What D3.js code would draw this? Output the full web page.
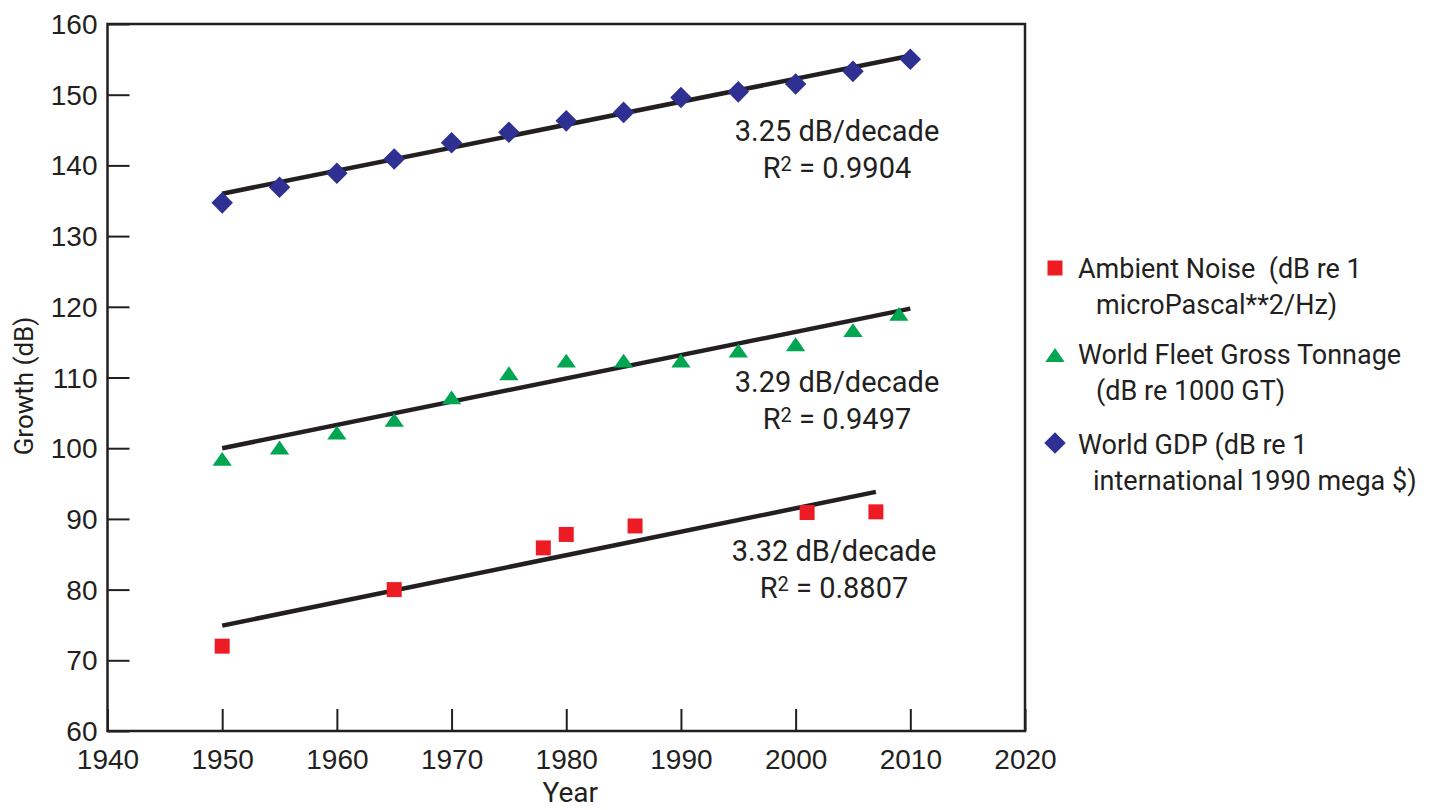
<!DOCTYPE html>
<html>
<head>
<meta charset="utf-8">
<script src="https://cdn.jsdelivr.net/npm/d3@7"></script>
<style>
  html, body { margin: 0; padding: 0; background: #ffffff; }
  svg { display: block; font-family: Roboto, "Noto Sans", sans-serif; }
  text { fill: #231f20; white-space: pre; }
</style>
</head>
<body>
<svg id="chart" width="1440" height="810"></svg>
<script>
// ---- Data -------------------------------------------------------------
const noiseYears  = [1950, 1965, 1978, 1980, 1986, 2001, 2007];
const noiseValues = [72.0, 80.0, 85.9, 87.8, 89.0, 90.9, 91.0];

const fleetYears  = [1950, 1955, 1960, 1965, 1970, 1975, 1980, 1985, 1990, 1995, 2000, 2005, 2009];
const fleetValues = [98.5, 100.1, 102.2, 104.0, 107.2, 110.6, 112.4, 112.4, 112.4, 113.8, 114.7, 116.7, 119.0];

const gdpYears    = [1950, 1955, 1960, 1965, 1970, 1975, 1980, 1985, 1990, 1995, 2000, 2005, 2010];
const gdpValues   = [134.7, 136.9, 138.9, 140.9, 143.2, 144.7, 146.3, 147.5, 149.6, 150.4, 151.5, 153.3, 155.0];

// Linear fits: slope in dB per decade, fitted value at the start year
const trendSlopes     = [3.32, 3.29, 3.25];
const trendStartYears = [1950, 1950, 1950];
const trendEndYears   = [2007, 2010, 2010];
const trendStartVals  = [74.9, 100.0, 136.0];
const trendR2         = ["0.8807", "0.9497", "0.9904"];

const xTicks = [1940, 1950, 1960, 1970, 1980, 1990, 2000, 2010, 2020];
const yTicks = [60, 70, 80, 90, 100, 110, 120, 130, 140, 150, 160];

const seriesNames = [
  ["Ambient Noise  (dB re 1", "microPascal**2/Hz)"],
  ["World Fleet Gross Tonnage", "(dB re 1000 GT)"],
  ["World GDP (dB re 1", "international 1990 mega $)"]
];

// ---- Setup ------------------------------------------------------------
const ink = "#231f20";
const colors = ["#ed1c24", "#00a651", "#2e3192"];

const plot = { left: 107.5, right: 1025, top: 24, bottom: 731 };
const x = d3.scaleLinear().domain([1940, 2020]).range([plot.left, plot.right]);
const y = d3.scaleLinear().domain([60, 160]).range([plot.bottom, plot.top]);

const svg = d3.select("#chart");

// Marker shapes
const flatTriangle = {
  draw(ctx, size) {
    const w = Math.sqrt(size) * 1.29, h = Math.sqrt(size) * 0.92;
    ctx.moveTo(0, -h / 2);
    ctx.lineTo(w / 2, h / 2);
    ctx.lineTo(-w / 2, h / 2);
    ctx.closePath();
  }
};
const shapes = [
  { type: d3.symbolSquare, size: 225, rotate: 0 },
  { type: flatTriangle,   size: 225, rotate: 0 },
  { type: d3.symbolSquare, size: 232, rotate: 45 }
];
const symbolPath = i => d3.symbol().type(shapes[i].type).size(shapes[i].size)();

const series = [
  { years: noiseYears, values: noiseValues },
  { years: fleetYears, values: fleetValues },
  { years: gdpYears,   values: gdpValues }
];

// ---- Axes -------------------------------------------------------------
const yAxis = d3.axisLeft(y).tickValues(yTicks).tickSize(-22).tickPadding(10);
const gy = svg.append("g").attr("transform", `translate(${plot.left},0)`).call(yAxis);

const xAxis = d3.axisBottom(x).tickValues(xTicks).tickFormat(d3.format("d")).tickSize(-22).tickPadding(18);
const gx = svg.append("g").attr("transform", `translate(0,${plot.bottom})`).call(xAxis);

[gx, gy].forEach(g => {
  g.select(".domain").remove();
  g.selectAll(".tick line").attr("stroke", ink).attr("stroke-width", 2);
  g.selectAll(".tick text").attr("fill", ink).style("font-size", "28px");
});
gy.selectAll(".tick text").attr("dy", "0.34em");

// Frame around the plotting area
svg.append("rect")
  .attr("x", plot.left).attr("y", plot.top)
  .attr("width", plot.right - plot.left).attr("height", plot.bottom - plot.top)
  .attr("fill", "none").attr("stroke", ink).attr("stroke-width", 2.5);

// Axis titles
svg.append("text")
  .attr("x", (plot.left + plot.right) / 2 + 4).attr("y", 802)
  .attr("text-anchor", "middle").style("font-size", "28px")
  .text("Year");

svg.append("text")
  .attr("transform", "translate(33,386) rotate(-90)")
  .attr("text-anchor", "middle").style("font-size", "26px")
  .text("Growth (dB)");

// ---- Trend lines ------------------------------------------------------
const trendLine = d3.line().x(d => x(d[0])).y(d => y(d[1]));
trendSlopes.forEach((s, i) => {
  const y0 = trendStartYears[i], y1 = trendEndYears[i];
  const pts = [[y0, trendStartVals[i]], [y1, trendStartVals[i] + s * (y1 - y0) / 10]];
  svg.append("path")
    .attr("d", trendLine(pts))
    .attr("fill", "none").attr("stroke", ink).attr("stroke-width", 4.5);
});

// ---- Markers ----------------------------------------------------------
series.forEach((s, i) => {
  svg.append("g").selectAll("path")
    .data(s.years.map((yr, j) => [yr, s.values[j]]))
    .join("path")
    .attr("d", symbolPath(i))
    .attr("transform", d => `translate(${x(d[0])},${y(d[1])}) rotate(${shapes[i].rotate})`)
    .attr("fill", colors[i]);
});

// ---- Fit annotations ----------------------------------------------------
const annotCenters = [834, 837, 837];
const annotBaselines = [561, 391.5, 140.5];
trendSlopes.forEach((s, i) => {
  const g = svg.append("g").attr("text-anchor", "middle").style("font-size", "29px");
  g.append("text")
    .attr("x", annotCenters[i]).attr("y", annotBaselines[i])
    .text(`${s.toFixed(2)} dB/decade`);
  const t = g.append("text")
    .attr("x", annotCenters[i]).attr("y", annotBaselines[i] + 37);
  t.append("tspan").text("R");
  t.append("tspan").attr("dy", -7).style("font-size", "20px").text("2");
  t.append("tspan").attr("dy", 7).text(` = ${trendR2[i]}`);
});

// ---- Legend -----------------------------------------------------------
const legendSymbolX = 1055;
const legendSymbolY = [268, 355, 443];
const legendTextX = 1078;
const legendIndentX = [1096, 1096, 1093];
const legendLine1 = [277.5, 364, 453.5];
const lineGap = 36;

seriesNames.forEach((names, i) => {
  svg.append("path")
    .attr("d", symbolPath(i))
    .attr("transform", `translate(${legendSymbolX},${legendSymbolY[i]}) rotate(${shapes[i].rotate})`)
    .attr("fill", colors[i]);
  svg.append("text")
    .attr("x", legendTextX).attr("y", legendLine1[i])
    .style("font-size", "27px").text(names[0]);
  svg.append("text")
    .attr("x", legendIndentX[i]).attr("y", legendLine1[i] + lineGap)
    .style("font-size", "27px").text(names[1]);
});
</script>
</body>
</html>
